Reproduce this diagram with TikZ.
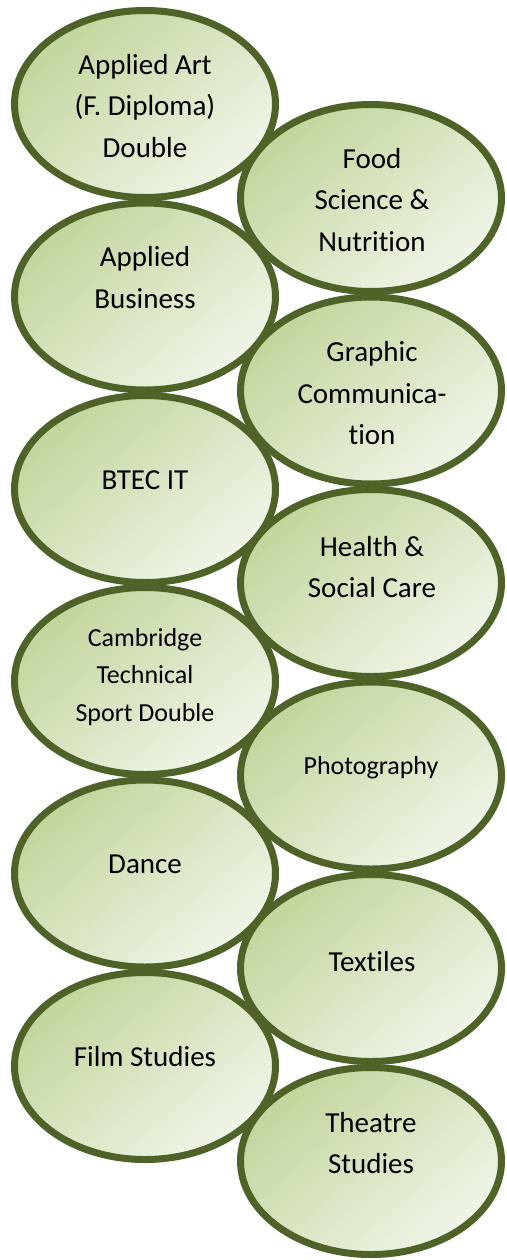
\documentclass[tikz,border=0pt]{standalone}
\usepackage{fontspec}
\setmainfont{Carlito}[RawFeature={-liga;-clig;-dlig}]
\usetikzlibrary{shapes.geometric,calc}
\definecolor{olivebd}{HTML}{4F6228}
\definecolor{greendark}{HTML}{C2D59C}
\definecolor{greenlight}{HTML}{F0F5E8}
\tikzset{
  ell/.style={ellipse, draw=olivebd, line width=7pt, minimum width=261pt, minimum height=187pt, inner sep=0pt,
    top color=greendark, bottom color=greenlight, shading angle=40},
  lbl/.style={align=center, text=black, inner sep=0pt, font=\fontsize{29}{41.5}\selectfont},
  lblsmall/.style={align=center, text=black, inner sep=0pt, font=\fontsize{26}{37.5}\selectfont}
}
\begin{document}
\begin{tikzpicture}[x=1pt,y=-1pt]
\useasboundingbox (0,0) rectangle (506,1260);
% left column
\node[ell] (L1) at (145,104) {};
\node[ell] (L2) at (145,296.5) {};
\node[ell] (L3) at (145,489) {};
\node[ell] (L4) at (145,681) {};
\node[ell] (L5) at (145,873.5) {};
\node[ell] (L6) at (145,1066) {};
% right column
\node[ell] (R1) at (371,198) {};
\node[ell] (R2) at (371,390.5) {};
\node[ell] (R3) at (371,583) {};
\node[ell] (R4) at (371,775.5) {};
\node[ell] (R5) at (371,968) {};
\node[ell] (R6) at (371,1161) {};
% labels
\node[lbl] (tL1) at ($(L1)+(0,2)$) {Applied Art\\(F. Diploma)\\Double};
\node[lbl] (tL2) at ($(L2)+(0,-19)$) {Applied\\Business};
\node[lbl] (tL3) at ($(L3)+(0,-9)$) {BTEC IT};
\node[lblsmall] (tL4) at ($(L4)+(0,-4)$) {Cambridge\\Technical\\Sport Double};
\node[lbl] (tL5) at ($(L5)+(0,-9)$) {Dance};
\node[lbl] (tL6) at ($(L6)+(0,-9)$) {Film Studies};
\node[lbl] (tR1) at ($(R1)+(1,2)$) {Food\\Science \&\\Nutrition};
\node[lbl] (tR2) at ($(R2)+(1,3)$) {Graphic\\Communica-\\tion};
\node[lbl] (tR3) at ($(R3)+(1,-16)$) {Health \&\\Social Care};
\node[lblsmall] (tR4) at ($(R4)+(0,-8)$) {Photography};
\node[lbl] (tR5) at ($(R5)+(1,-6)$) {Textiles};
\node[lbl] (tR6) at ($(R6)+(0,-18)$) {Theatre\\Studies};
\end{tikzpicture}
\end{document}
